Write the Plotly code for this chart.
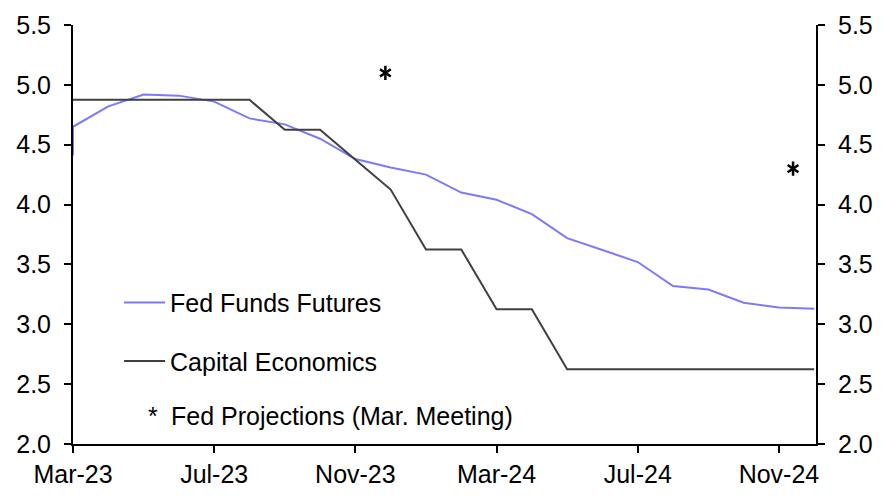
import plotly.graph_objects as go

# ---- data ----
tick_months = [0, 4, 8, 12, 16, 20]
tick_labels = ["Mar-23", "Jul-23", "Nov-23", "Mar-24", "Jul-24", "Nov-24"]

futures_months = [0, 0, 1, 2, 3, 4, 5, 6, 7, 8, 9, 10, 11, 12, 13, 14, 15, 16, 17, 18, 19, 20, 21]
futures_values = [4.41, 4.65, 4.82, 4.92, 4.91, 4.86, 4.72, 4.67, 4.55, 4.38, 4.31, 4.25,
                  4.10, 4.04, 3.92, 3.72, 3.62, 3.52, 3.32, 3.29, 3.18, 3.14, 3.13]

ce_months = [0, 1, 2, 3, 4, 5, 6, 7, 8, 9, 10, 11, 12, 13, 14, 15, 16, 17, 18, 19, 20, 21]
ce_values = [4.875, 4.875, 4.875, 4.875, 4.875, 4.875, 4.625, 4.625, 4.375, 4.125, 3.625,
             3.625, 3.125, 3.125, 2.625, 2.625, 2.625, 2.625, 2.625, 2.625, 2.625, 2.625]

proj_months = [8.85, 20.4]
proj_values = [5.1, 4.3]

FONT = "Liberation Sans, Arial, sans-serif"
FS = 25
BLUE = "#7B7BF7"
DARK = "#404040"

fig = go.Figure()
fig.add_trace(go.Scatter(x=futures_months, y=futures_values, mode="lines",
                         name="Fed Funds Futures", line=dict(color=BLUE, width=2),
                         legendgroup="a"))
fig.add_trace(go.Scatter(x=ce_months, y=ce_values, mode="lines", yaxis="y2",
                         name="Capital Economics", line=dict(color=DARK, width=2),
                         legendgroup="b"))
for sym in ["y-up-open", "y-down-open"]:
    fig.add_trace(go.Scatter(x=proj_months, y=proj_values, mode="markers",
                             marker=dict(symbol=sym, size=9, color="black",
                                         line=dict(color="black", width=2.5)),
                             showlegend=False, hoverinfo="skip"))

axis_common = dict(
    showline=True, linecolor="black", linewidth=2,
    ticks="outside", ticklen=7, tickwidth=2, tickcolor="black",
    showgrid=False, zeroline=False, automargin=False,
    tickfont=dict(family=FONT, size=FS, color="black"),
)

# page body has an 8px default margin; the figure is sized so the plot area lands
# where the reference has it inside the 885x498 window
fig.update_layout(
    template="none",
    width=877, height=490,
    margin=dict(l=65, r=69, t=17, b=54, pad=0),
    paper_bgcolor="white", plot_bgcolor="white",
    font=dict(family=FONT, size=FS, color="black"),
    xaxis=dict(range=[0, 21.05], tickvals=tick_months, ticktext=tick_labels, **axis_common),
    yaxis=dict(range=[2, 5.5], dtick=0.5, tick0=2, tickformat=".1f",
               ticklabelstandoff=8, **axis_common),
    yaxis2=dict(range=[2, 5.5], dtick=0.5, tick0=2, tickformat=".1f",
                overlaying="y", side="right", anchor="x",
                ticklabelstandoff=8, **axis_common),
    legend=dict(x=0.062, y=0.392, xanchor="left", yanchor="top", itemwidth=41,
                bgcolor="rgba(0,0,0,0)", borderwidth=0, tracegroupgap=23,
                font=dict(family=FONT, size=FS, color="black")),
    annotations=[
        dict(xref="paper", yref="paper", x=0.107, y=0.066, text="*", showarrow=False,
             xanchor="center", yanchor="middle", font=dict(family=FONT, size=FS, color="black")),
        dict(xref="paper", yref="paper", x=0.129, y=0.066, text="Fed Projections (Mar. Meeting)",
             showarrow=False, xanchor="left", yanchor="middle",
             font=dict(family=FONT, size=FS, color="black")),
    ],
)

fig.write_html("out.html")
